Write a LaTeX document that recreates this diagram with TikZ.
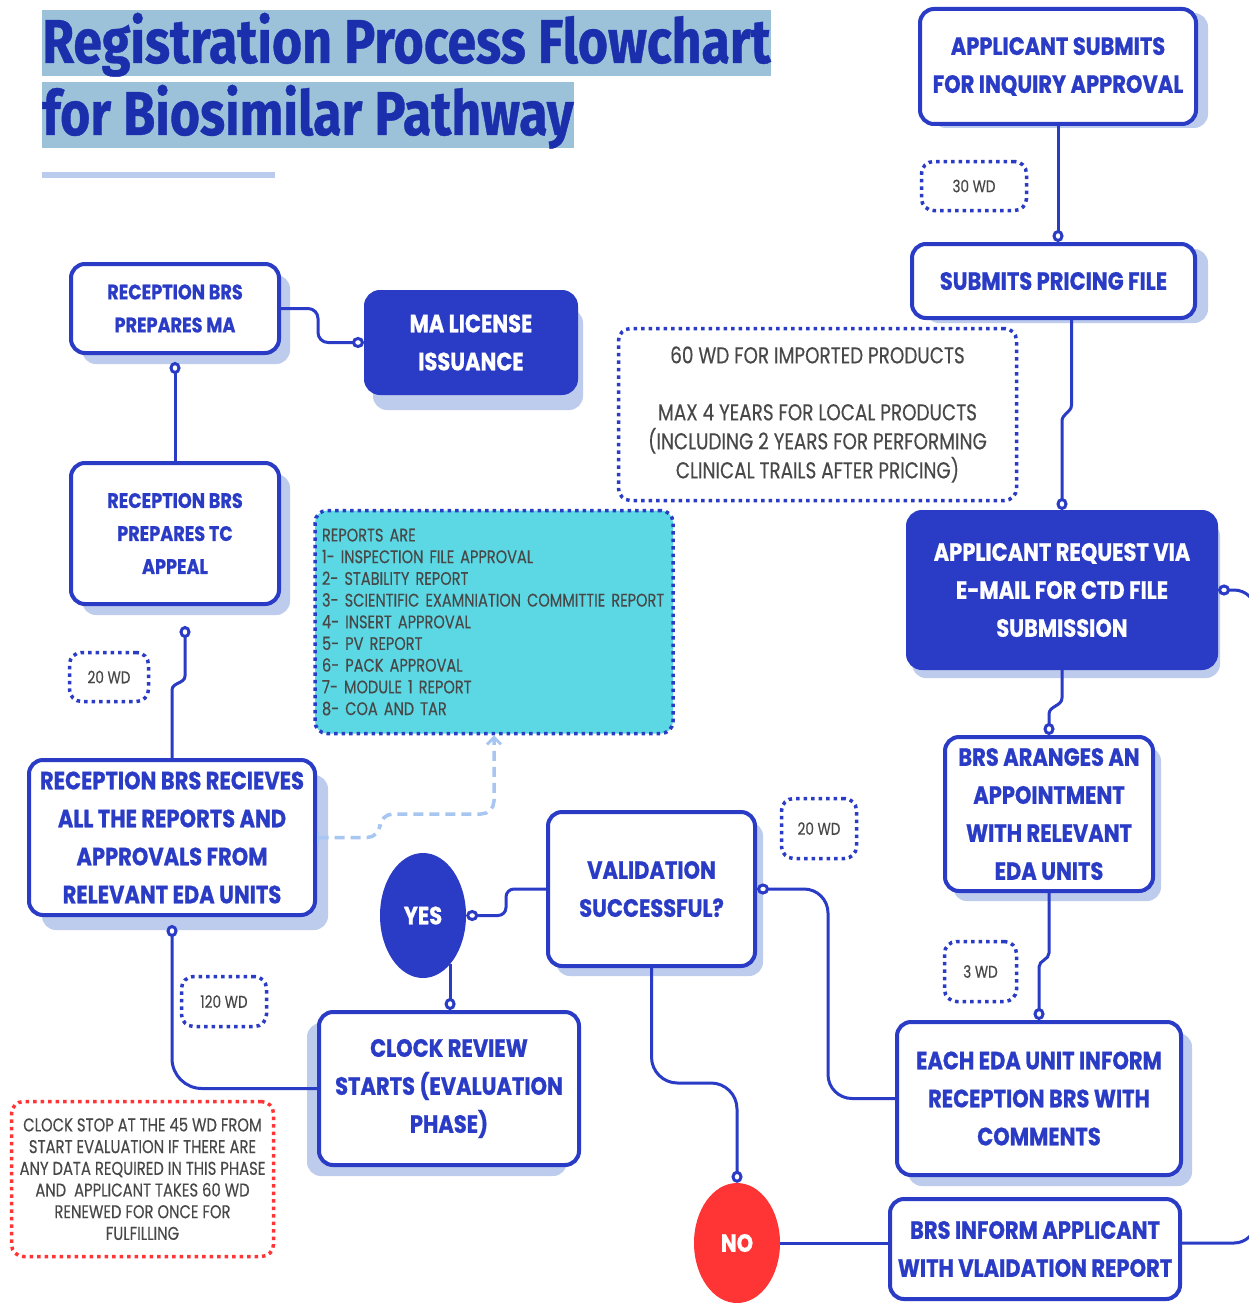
\documentclass[tikz,border=0pt]{standalone}
\usepackage{fontspec}
\usetikzlibrary{shapes.geometric, arrows.meta, shadows, calc}

\newfontfamily\titlefont{Fira Sans}[FakeStretch=0.835, BoldFeatures={FakeBold=0.6}]
\newfontfamily\boxfont{Poppins}[FakeStretch=0.84, BoldFeatures={FakeBold=0.8}]
\newfontfamily\notefont{Poppins}[FakeStretch=0.8, FakeBold=0.3]

\definecolor{mainblue}{HTML}{2A3BC6}
\definecolor{shade}{HTML}{BDCCEC}
\definecolor{titlebg}{HTML}{9CC2DA}
\definecolor{titleblue}{HTML}{1B2EAC}
\definecolor{cyanfill}{HTML}{5CD8E5}
\definecolor{notegray}{HTML}{484848}
\definecolor{alertred}{HTML}{FF3535}
\definecolor{linkblue}{HTML}{A8C6F2}
\definecolor{bandbar}{HTML}{BACBEE}

\tikzset{
  Knob/.tip={Circle[length=12pt,width=11pt,fill=white]},
  box/.style={draw=mainblue, line width=4pt, rounded corners=14pt, fill=white,
    align=center, inner sep=0pt, text=mainblue,
    font=\boxfont\bfseries\fontsize{25}{38}\selectfont},
  smallbox/.style={box, font=\boxfont\bfseries\fontsize{21}{33}\selectfont},
  solidbox/.style={box, fill=mainblue, text=white},
  shad/.style 2 args={drop shadow={shadow xshift=#1, shadow yshift=#2,
    fill=shade, opacity=1}},
  period/.style={draw=mainblue, line width=3.5pt, dash pattern=on 3.5pt off 4pt,
    rounded corners=12pt, text=notegray, align=center, inner sep=0pt,
    font=\notefont\fontsize{17}{20}\selectfont},
  note/.style={period, font=\notefont\fontsize{23}{29}\selectfont},
  badge/.style={ellipse, inner sep=0pt, text=white,
    font=\boxfont\bfseries\fontsize{25}{30}\selectfont},
  conn/.style={draw=mainblue, line width=3pt},
  link/.style={draw=linkblue, line width=3.5pt, dash pattern=on 10pt off 6pt,
    rounded corners=13pt,
    {Bar[width=14pt,line width=2pt]}-{Straight Barb[length=7pt,width=14pt,line width=3pt]}},
  headline/.style={anchor=base west, fill=titlebg, inner sep=0pt,
    text height=53pt, text depth=13pt, text=titleblue,
    font=\titlefont\bfseries\fontsize{62}{62}\selectfont},
}

\begin{document}
\begin{tikzpicture}[x=1pt, y=-1pt]
\useasboundingbox (0,0) rectangle (1248,1303);
\fill[white] (0,0) rectangle (1248,1303);

% heading
\node[headline] (head1) at (42,63) {Registration Process Flowchart};
\node[headline] (head2) at (42,135) {for Biosimilar Pathway};
\fill[bandbar] (42,172) rectangle (275,178);

% right column
\node[box, shad={12pt}{-4pt}, minimum width=276pt, minimum height=115pt]
  (A1) at (1058,66.5) {APPLICANT SUBMITS\\FOR INQUIRY APPROVAL};
\node[period, minimum width=105pt, minimum height=49pt] (D30) at (974,186) {30 WD};
\node[box, shad={13pt}{-5pt}, minimum width=283pt, minimum height=74pt]
  (A2) at (1053.5,281) {SUBMITS PRICING FILE};
\node[note, minimum width=398pt, minimum height=172pt] (N60) at (817.5,414.5)
  {60 WD FOR IMPORTED PRODUCTS\\[28pt]MAX 4 YEARS FOR LOCAL PRODUCTS\\(INCLUDING 2 YEARS FOR PERFORMING\\CLINICAL TRAILS AFTER PRICING)};
\node[solidbox, shad={4pt}{-10pt}, minimum width=308pt, minimum height=156pt]
  (A3) at (1062,590) {APPLICANT REQUEST VIA\\E-MAIL FOR CTD FILE\\SUBMISSION};
\node[box, shad={8pt}{-10pt}, minimum width=208pt, minimum height=154pt]
  (A4) at (1049,814) {BRS ARANGES AN\\APPOINTMENT\\WITH RELEVANT\\EDA UNITS};
\node[period, minimum width=72pt, minimum height=60pt] (D3) at (980.5,971.5) {3 WD};
\node[box, shad={11pt}{-11pt}, minimum width=284pt, minimum height=153pt]
  (A5) at (1039,1098.5) {EACH EDA UNIT INFORM\\RECEPTION BRS WITH\\COMMENTS};
\node[box, minimum width=290pt, minimum height=100pt]
  (A6) at (1035,1249) {BRS INFORM APPLICANT\\WITH VLAIDATION REPORT};

% decision in the middle
\node[box, shad={8pt}{-10pt}, minimum width=207pt, minimum height=154pt]
  (V) at (651.5,889) {VALIDATION\\SUCCESSFUL?};
\node[period, minimum width=75pt, minimum height=60pt] (D20r) at (819,828.5) {20 WD};
\node[badge, fill=mainblue, minimum width=86pt, minimum height=125pt] (YES) at (423,915.5) {YES};
\node[badge, fill=alertred, minimum width=86pt, minimum height=120pt] (NO) at (737,1243) {NO};
\node[box, shad={-12pt}{-11pt}, minimum width=260pt, minimum height=153pt]
  (C) at (449,1088.5) {CLOCK REVIEW\\STARTS (EVALUATION\\PHASE)};

% left column
\node[period, draw=alertred, minimum width=262pt, minimum height=155pt,
  font=\notefont\fontsize{18.5}{21.7}\selectfont] (RN) at (142.5,1179)
  {CLOCK STOP AT THE 45 WD FROM\\START EVALUATION IF THERE ARE\\ANY DATA REQUIRED IN THIS PHASE\\AND~ APPLICANT TAKES 60 WD\\RENEWED FOR ONCE FOR\\FULFILLING};
\node[period, minimum width=85pt, minimum height=50pt] (D120) at (224,1001.5) {120 WD};
\node[box, shad={13pt}{-15pt}, minimum width=286pt, minimum height=155pt]
  (R) at (172,837.5) {RECEPTION BRS RECIEVES\\ALL THE REPORTS AND\\APPROVALS FROM\\RELEVANT EDA UNITS};
\node[period, fill=cyanfill, align=left, text width=344pt, inner xsep=7pt,
  minimum height=223pt, font=\notefont\fontsize{18.2}{21.7}\selectfont]
  (CY) at (494,622)
  {REPORTS ARE\\1- INSPECTION FILE APPROVAL\\2- STABILITY REPORT\\3- SCIENTIFIC EXAMNIATION COMMITTIE REPORT\\4- INSERT APPROVAL\\5- PV REPORT\\6- PACK APPROVAL\\7- MODULE 1 REPORT\\8- COA AND TAR};
\node[period, minimum width=79pt, minimum height=49pt] (D20l) at (109,677) {20 WD};
\node[smallbox, shad={11pt}{-11pt}, minimum width=208pt, minimum height=141pt]
  (T) at (175,533.5) {RECEPTION BRS\\PREPARES TC\\APPEAL};
\node[smallbox, shad={11pt}{-11pt}, minimum width=208pt, minimum height=89pt]
  (M) at (175,308.5) {RECEPTION BRS\\PREPARES MA};
\node[solidbox, shad={7pt}{-17pt}, minimum width=210pt, minimum height=101pt]
  (L) at (471,342.5) {MA LICENSE\\ISSUANCE};

% connectors
\draw[conn, -Knob] (A1.south) -- (A1.south |- A2.north);
\draw[conn, -Knob] ([xshift=18pt]A2.south) -- ++(0,85) to[out=-90,in=90] ++(-9.5,16) -- (A3.north);
\draw[conn, -Knob] (A3.south) -- ++(0,28) to[out=-90,in=90] ++(-13,16) -- (A4.north);
\draw[conn, -Knob] (A4.south) -- ++(0,60) to[out=-90,in=90] ++(-10,14) -- (A5.north);
\draw[conn, -Knob, rounded corners=22pt] (A6.east |- NO.east) -- (1256,1243) -- (1256,590) -- (A3.east);
\draw[conn, Knob-, rounded corners=24pt] (V.east) -- (828,889) -- (828,1098.5) -- (A5.west);
\draw[conn, -Knob, rounded corners=26pt] (V.south) -- (651.5,1083) -- (737,1083) -- (NO.north);
\draw[conn] (NO.east) -- (A6.west |- NO.east);
\draw[conn, Knob-, rounded corners=8pt] (YES.east) -- (506,915.5) -- (506,889) -- (V.west);
\draw[conn, -Knob] (YES.-61) -- (YES.-61 |- C.north);
\draw[conn, -Knob, rounded corners=30pt] (C.west) -- (172,1088.5) -- ([yshift=-8pt]R.south);
\draw[conn, Knob-] ([xshift=10pt,yshift=-20pt]T.south) -- ++(0,50) to[out=-90,in=90] ++(-13,14) -- (R.north);
\draw[conn, Knob-] ([yshift=-7pt]M.south) -- (T.north);
\draw[conn, -Knob, rounded corners=10pt] (M.east) -- (318,308.5) -- (318,342.5) -- (L.west);
\draw[link] (R.east) -- (380,837.5) -- (380,814) -- (494,814) -- (CY.south);
\end{tikzpicture}
\end{document}
